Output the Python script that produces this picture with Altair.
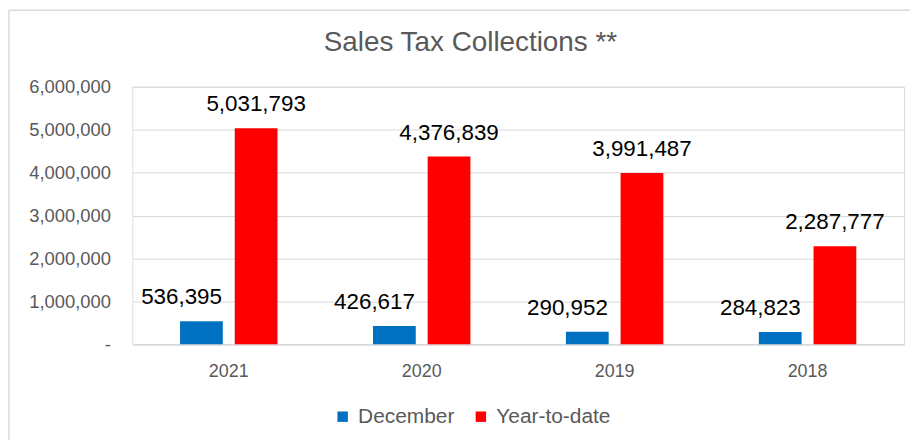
import altair as alt
import pandas as pd

years = ["2021", "2020", "2019", "2018"]
december = [536395, 426617, 290952, 284823]
ytd = [5031793, 4376839, 3991487, 2287777]
series = ["December", "Year-to-date"]
colors = ["#0070C0", "#FF0000"]
y_ticks = [0, 1000000, 2000000, 3000000, 4000000, 5000000, 6000000]

rows = []
for i, yr in enumerate(years):
    rows.append({"year": yr, "series": series[0], "value": december[i]})
    rows.append({"year": yr, "series": series[1], "value": ytd[i]})
df = pd.DataFrame(rows)

FONT = "Liberation Sans"
W, H = 776, 259

x = alt.X("year:N", sort=years, title=None,
          scale=alt.Scale(paddingInner=0.495, paddingOuter=0.2475),
          axis=alt.Axis(labelAngle=0, labelFontSize=18, labelColor="#595959",
                        labelFont=FONT, labelPadding=18, ticks=False,
                        domainColor="#D9D9D9", domainWidth=1.5, grid=False))
xo = alt.XOffset("series:N", sort=series,
                 scale=alt.Scale(paddingInner=0.218, paddingOuter=0))
y = alt.Y("value:Q", title=None,
          scale=alt.Scale(domain=[0, 6000000]),
          axis=alt.Axis(values=y_ticks, labelFontSize=18.5, labelColor="#595959",
                        labelFont=FONT, labelPadding=22, ticks=False, domain=False,
                        gridColor="#D9D9D9", gridWidth=1,
                        labelExpr="datum.value == 0 ? '-' : format(datum.value, ',')"))

base = alt.Chart(df)

bars = base.mark_bar().encode(
    x=x, xOffset=xo, y=y,
    color=alt.Color("series:N", sort=series,
                    scale=alt.Scale(domain=series, range=colors),
                    legend=alt.Legend(title=None, orient="none", direction="horizontal",
                                      legendX=201, legendY=321,
                                      symbolType="square", symbolSize=110,
                                      labelFontSize=21, labelColor="#595959", labelFont=FONT,
                                      labelOffset=5, columnPadding=16)),
)

ytd_labels = base.transform_filter(alt.datum.series == series[1]).mark_text(
    baseline="bottom", dy=-12, fontSize=22.5, font=FONT, color="#000000"
).encode(x=x, xOffset=xo, y=y, text=alt.Text("value:Q", format=","))

dec_labels = base.transform_filter(alt.datum.series == series[0]).mark_text(
    baseline="bottom", dx=-20, dy=-12, fontSize=22.5, font=FONT, color="#000000"
).encode(x=x, xOffset=xo, y=y, text=alt.Text("value:Q", format=","))

frame = pd.DataFrame({"k": [0]})
border_top = alt.Chart(frame).mark_rule(stroke="#D9D9D9", strokeWidth=1.5).encode(
    x=alt.value(-124), x2=alt.value(W + 6), y=alt.value(-77))
border_left = alt.Chart(frame).mark_rule(stroke="#D9D9D9", strokeWidth=1.5).encode(
    x=alt.value(-124), y=alt.value(-77), y2=alt.value(H + 96))

chart = alt.layer(border_top, border_left, bars, ytd_labels, dec_labels).properties(
    width=W, height=H,
    padding={"left": 0, "top": 0, "right": 1, "bottom": 0},
    title=alt.TitleParams("Sales Tax Collections **", fontSize=28, font=FONT,
                          fontWeight="normal", color="#595959", offset=-48, dx=-48),
).configure_view(stroke=None).configure(background="white")

chart.save("out.html", embed_options={"renderer": "svg", "actions": False})
